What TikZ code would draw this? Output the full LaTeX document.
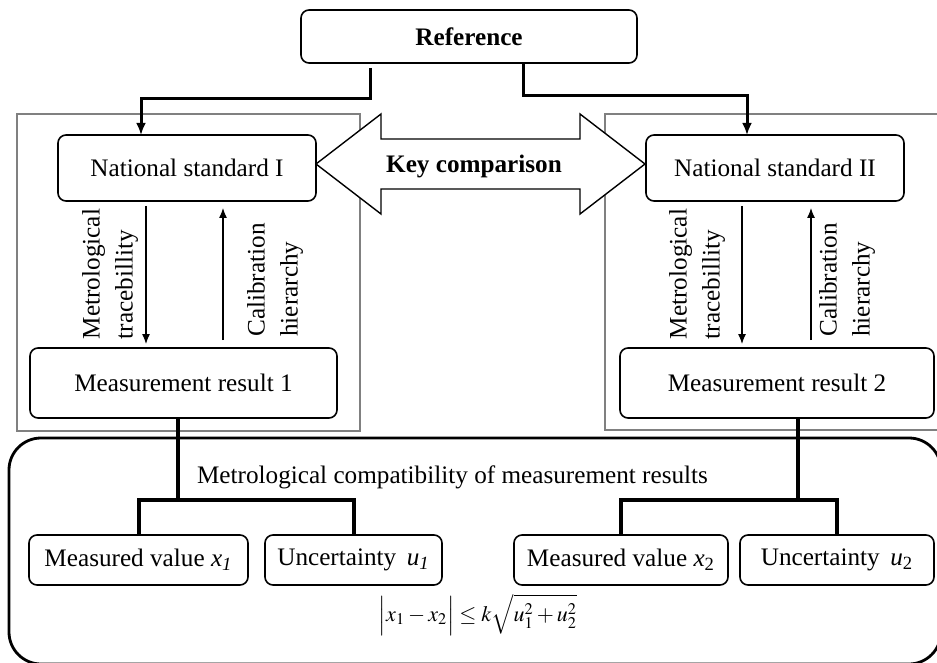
\documentclass[tikz,border=0pt]{standalone}
\usepackage{mathptmx}
\usepackage{fontspec}
\setmainfont{Liberation Serif}
\usetikzlibrary{arrows.meta,calc}

\tikzset{
  txt/.style={font=\fontsize{12.6}{16.5}\selectfont},
  box/.style={txt, draw, line width=0.8pt, rounded corners=4pt, inner sep=0pt, outer sep=0pt},
}

\begin{document}
\begin{tikzpicture}[x=0.5pt, y=-0.5pt,
    panel/.style={draw=gray, line width=1.3pt},
    feed/.style={line width=1.5pt, -{Latex[length=6pt,width=5pt]}},
    flow/.style={line width=0.6pt, -{Latex[length=5pt,width=4pt]}},
    bus/.style={line width=2pt},
    side/.style={txt, rotate=90, align=left, inner sep=0pt}]
  \useasboundingbox (0,0) rectangle (937,663);
  \clip (0,0) rectangle (937,663);

  \def\drop{35}

  \draw[panel] (17,114) rectangle (360,431);
  \draw[panel] (605,114) rectangle (950,430);

  \node[box, minimum width=168pt, minimum height=26.5pt] (ref) at (469,36.5) {\bfseries Reference};
  \node[box, minimum width=129pt, minimum height=33pt] (NS1) at (187,168) {National standard I};
  \node[box, minimum width=129pt, minimum height=33pt] (NS2) at (775,168) {National standard II};
  \node[box, minimum width=153.5pt, minimum height=35pt] (MR1) at (183.5,383) {Measurement result 1};
  \node[box, minimum width=157pt, minimum height=35pt] (MR2) at (777,383) {Measurement result 2};

  \draw[fill=white, line width=0.7pt] (316,164) -- (381,114) -- (381,139) -- (580,139) -- (580,114)
    -- (645,164) -- (580,214) -- (580,189) -- (381,189) -- (381,214) -- cycle;
  \node[txt] (key) at (474,166) {\bfseries Key comparison};

  \draw[feed] ([xshift=-49.5pt,yshift=-2.5pt]ref.south) -- ++(0,31) -| ([xshift=-23pt]NS1.north);
  \draw[feed] ([xshift=27pt]ref.south) -- ++(0,33) -| ([xshift=-14pt]NS2.north);

  \draw[flow] ($(NS1.south)+(-41,5)$) -- ($(NS1.south |- MR1.north)+(-41,-4)$);
  \draw[flow] ($(NS1.south |- MR1.north)+(36,-8)$) -- ($(NS1.south)+(36,7)$);
  \draw[flow] ($(NS2.south)+(-33,5)$) -- ($(NS2.south |- MR2.north)+(-33,-4)$);
  \draw[flow] ($(NS2.south |- MR2.north)+(36,-8)$) -- ($(NS2.south)+(36,7)$);

  \node[side] (trace1) at (110,274) {Metrological\\tracebillity};
  \node[side] (calib1) at (275,280) {Calibration\\hierarchy};
  \node[side] (trace2) at (697,274) {Metrological\\tracebillity};
  \node[side] (calib2) at (847,280) {Calibration\\hierarchy};

  \draw[line width=1.4pt, rounded corners=16pt] (9,438) rectangle (941,664);
  \node[txt] (compat) at (452.5,477) {Metrological compatibility of measurement results};

  \node[box, minimum width=109.5pt, minimum height=25pt] (MV1) at (138.5,560) {Measured value \textit{x\textsubscript{1}}};
  \node[box, minimum width=88.5pt, minimum height=25pt] (U1) at (353.5,560) {Uncertainty\, \textit{u\textsubscript{1}}};
  \node[box, minimum width=107pt, minimum height=25pt] (MV2) at (621,560) {Measured value \textit{x}\textsubscript{2}};
  \node[box, minimum width=97pt, minimum height=25pt] (U2) at (837,560) {Uncertainty\, \textit{u}\textsubscript{2}};

  \coordinate (bar1) at ($(MV1.north)+(0,-\drop)$);
  \coordinate (bar2) at ($(MV2.north)+(0,-\drop)$);
  \coordinate (top1) at ($(MR1.south)+(-5.5,0)$);
  \coordinate (top2) at ($(MR2.south)+(21,0)$);
  \draw[bus] (MV1.north) -- (bar1) -| (U1.north);
  \draw[bus] (MV2.north) -- (bar2) -| (U2.north);
  \draw[bus] (top1) -- (top1 |- bar1);
  \draw[bus] (top2) -- (top2 |- bar2);

  \node[font=\fontsize{11}{13}\selectfont] (crit) at (478,615)
    {$\left|\vphantom{\sqrt{u_1^2}}x_1-x_2\right|\le k\sqrt{u_1^2+u_2^2}$};
\end{tikzpicture}
\end{document}
